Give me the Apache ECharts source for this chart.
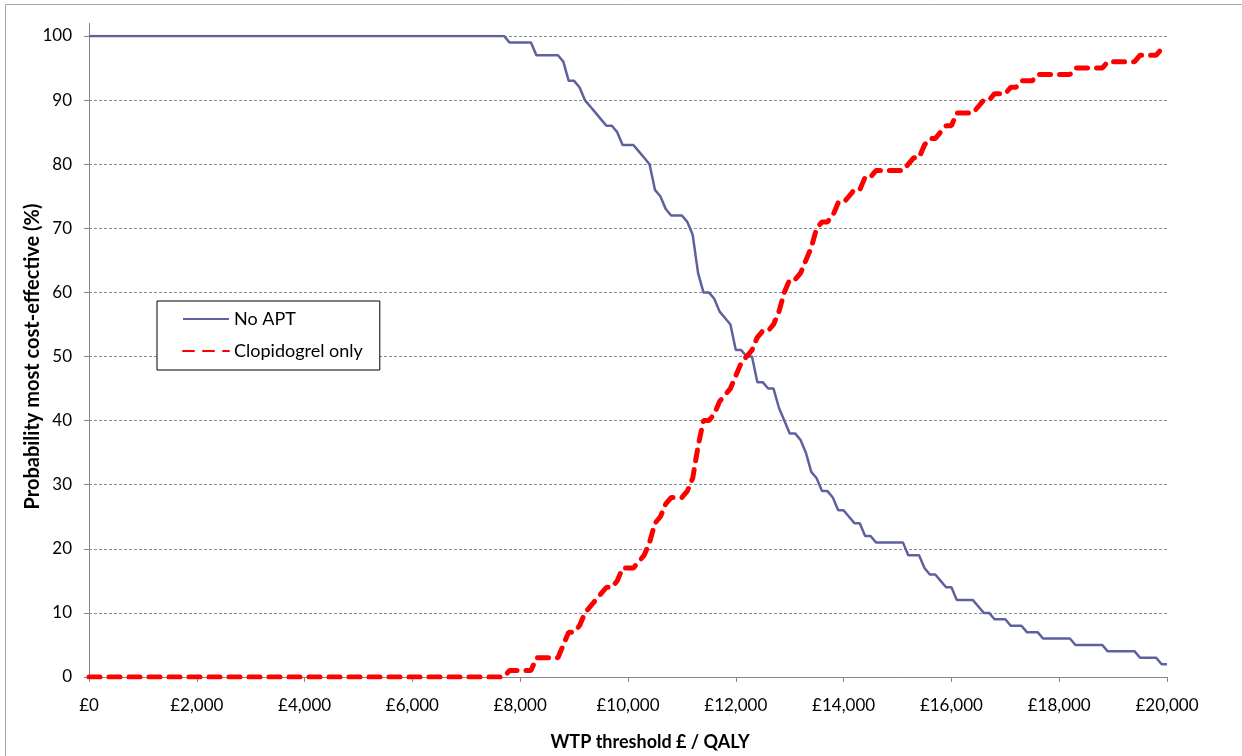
<!DOCTYPE html>
<html>
<head>
<meta charset="utf-8">
<title>CEAC</title>
<script src="https://cdn.jsdelivr.net/npm/echarts@6/dist/echarts.min.js"></script>
<style>
  html, body { margin: 0; padding: 0; background: #fff; }
  #chart { width: 1242px; height: 756px; }
</style>
</head>
<body>
<div id="chart"></div>
<script>
// probability (%) that each option is most cost-effective, one value per £100 of WTP (£0 .. £20,000)
const noApt = [
  100, 100, 100, 100, 100, 100, 100, 100, 100, 100, 100, 100, 100, 100, 100, 100, 100, 100, 100, 100,
  100, 100, 100, 100, 100, 100, 100, 100, 100, 100, 100, 100, 100, 100, 100, 100, 100, 100, 100, 100,
  100, 100, 100, 100, 100, 100, 100, 100, 100, 100, 100, 100, 100, 100, 100, 100, 100, 100, 100, 100,
  100, 100, 100, 100, 100, 100, 100, 100, 100, 100, 100, 100, 100, 100, 100, 100, 100, 100, 99, 99,
  99, 99, 99, 97, 97, 97, 97, 97, 96, 93, 93, 92, 90, 89, 88, 87, 86, 86, 85, 83,
  83, 83, 82, 81, 80, 76, 75, 73, 72, 72, 72, 71, 69, 63, 60, 60, 59, 57, 56, 55,
  51, 51, 50, 50, 46, 46, 45, 45, 42, 40, 38, 38, 37, 35, 32, 31, 29, 29, 28, 26,
  26, 25, 24, 24, 22, 22, 21, 21, 21, 21, 21, 21, 19, 19, 19, 17, 16, 16, 15, 14,
  14, 12, 12, 12, 12, 11, 10, 10, 9, 9, 9, 8, 8, 8, 7, 7, 7, 6, 6, 6,
  6, 6, 6, 5, 5, 5, 5, 5, 5, 4, 4, 4, 4, 4, 4, 3, 3, 3, 3, 2,
  2
]
const clopidogrel = [
  0, 0, 0, 0, 0, 0, 0, 0, 0, 0, 0, 0, 0, 0, 0, 0, 0, 0, 0, 0,
  0, 0, 0, 0, 0, 0, 0, 0, 0, 0, 0, 0, 0, 0, 0, 0, 0, 0, 0, 0,
  0, 0, 0, 0, 0, 0, 0, 0, 0, 0, 0, 0, 0, 0, 0, 0, 0, 0, 0, 0,
  0, 0, 0, 0, 0, 0, 0, 0, 0, 0, 0, 0, 0, 0, 0, 0, 0, 0, 1, 1,
  1, 1, 1, 3, 3, 3, 3, 3, 5, 7, 7, 8, 10, 11, 12, 13, 14, 14, 15, 17,
  17, 17, 18, 19, 21, 24, 25, 27, 28, 28, 28, 29, 31, 36, 40, 40, 41, 43, 44, 45,
  47, 49, 50, 51, 53, 54, 54, 55, 57, 60, 62, 62, 63, 65, 67, 70, 71, 71, 72, 74,
  74, 75, 76, 76, 78, 78, 79, 79, 79, 79, 79, 79, 80, 81, 81, 83, 84, 84, 85, 86,
  86, 88, 88, 88, 88, 89, 90, 90, 91, 91, 91, 92, 92, 93, 93, 93, 94, 94, 94, 94,
  94, 94, 94, 95, 95, 95, 95, 95, 95, 96, 96, 96, 96, 96, 96, 97, 97, 97, 97, 98,
  98
]
const seriesNames = ['No APT', 'Clopidogrel only']
const wtpStep = 100
const xMax = 20000
const xTickStep = 2000
const yMax = 100
const yTickStep = 10

const wtp = noApt.map((_, i) => i * wtpStep)

const font = 'Lato, "Open Sans", sans-serif'
const axisGrey = '#868686'

function pounds(v) {
  return '£' + String(v).replace(/\B(?=(\d{3})+(?!\d))/g, ',')
}

const myChart = echarts.init(document.getElementById('chart'))

const option = {
  backgroundColor: '#fff',
  animation: false,
  graphic: [
    {
      type: 'rect',
      silent: true,
      shape: { x: 5.5, y: 4.5, width: 1260, height: 780 },
      style: { fill: null, stroke: '#a6a6a6', lineWidth: 1 }
    },
    {
      // Excel leaves the value axis running a little past 100
      type: 'line',
      silent: true,
      shape: { x1: 89.5, y1: 23, x2: 89.5, y2: 37 },
      style: { stroke: axisGrey, lineWidth: 1 }
    }
  ],
  grid: { left: 89, right: 75, top: 36, bottom: 79 },
  legend: {
    orient: 'vertical',
    left: 157,
    top: 301,
    data: seriesNames,
    backgroundColor: '#fff',
    borderColor: '#000',
    borderWidth: 1,
    borderRadius: 0,
    padding: [9, 17, 10, 25],
    itemWidth: 46,
    itemHeight: 14,
    itemGap: 14,
    itemStyle: { opacity: 0 },
    textStyle: { fontFamily: font, fontSize: 18, color: '#000' }
  },
  xAxis: {
    type: 'value',
    min: 0,
    max: xMax,
    interval: xTickStep,
    name: 'WTP threshold £ / QALY',
    nameLocation: 'middle',
    nameGap: 56,
    nameMoveOverlap: false,
    nameTextStyle: { fontFamily: font, fontSize: 18, fontWeight: 'bold', color: '#000', padding: [0, 0, 0, 44] },
    axisLine: { lineStyle: { color: axisGrey, width: 1 } },
    axisTick: { show: true, length: 5, lineStyle: { color: axisGrey } },
    axisLabel: { margin: 20, fontFamily: font, fontSize: 17, color: '#000', formatter: pounds },
    splitLine: { show: false }
  },
  yAxis: {
    type: 'value',
    min: 0,
    max: yMax,
    interval: yTickStep,
    name: 'Probability most cost-effective (%)',
    nameLocation: 'middle',
    nameGap: 46,
    nameMoveOverlap: false,
    nameTextStyle: { fontFamily: font, fontSize: 20, fontWeight: 'bold', color: '#000' },
    axisLine: { show: true, lineStyle: { color: axisGrey, width: 1 } },
    axisTick: { show: true, length: 5, lineStyle: { color: axisGrey } },
    axisLabel: { margin: 17, fontFamily: font, fontSize: 17, color: '#000' },
    splitLine: { show: true, lineStyle: { color: '#8c8c8c', width: 1, type: [3, 2] } }
  },
  series: [
    {
      name: seriesNames[0],
      type: 'line',
      symbol: 'none',
      showSymbol: false,
      lineStyle: { color: '#5f619e', width: 2.5 },
      itemStyle: { color: '#5f619e' },
      data: wtp.map((x, i) => [x, noApt[i]])
    },
    {
      name: seriesNames[1],
      type: 'line',
      symbol: 'none',
      showSymbol: false,
      lineStyle: { color: '#ff0000', width: 5, type: [11, 9], cap: 'round' },
      itemStyle: { color: '#ff0000' },
      data: wtp.map((x, i) => [x, clopidogrel[i]])
    }
  ]
}

myChart.setOption(option)

window.addEventListener('resize', () => {
  myChart.resize()
})
</script>
</body>
</html>
